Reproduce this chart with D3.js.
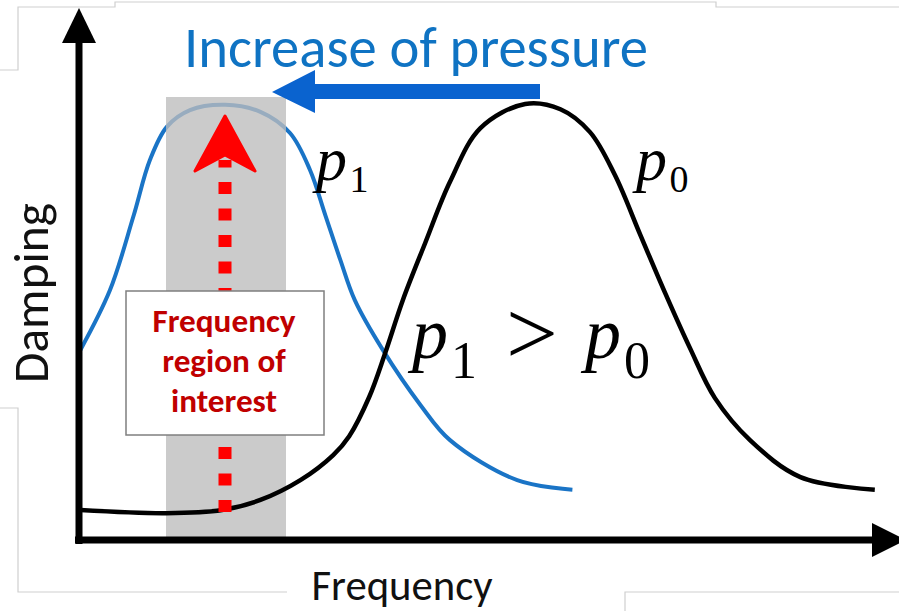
<!DOCTYPE html>
<html lang="en">
<head>
    <meta charset="utf-8">
    <script type="text/javascript" src="https://d3js.org/d3.v7.min.js"></script>
    <style>
        body { margin: 0; background: #fff; }
    </style>
</head>

<body>
    <script type="text/javascript">
        // SVG width and height
        let w = 899;
        let h = 611;

        // Damping curve at p0 (black), frequency / damping in arbitrary units
        let freqP0 = [0.3, 11, 18, 22.8, 27.8, 31.9, 33.9, 36.4, 38.4, 40.6, 43.4, 46.5, 50.3, 55.9, 60.3, 64, 67.1, 70.3, 73.4, 76.5, 79.6, 84, 90.3, 99.6];
        let dampP0 = [6.8, 6.1, 6.8, 9.1, 13.6, 19.3, 23.6, 32.5, 42.5, 54.5, 67.5, 81.4, 93.6, 99.1, 97.9, 92.7, 83, 69.3, 56.1, 43.6, 32.3, 22.7, 14.3, 11.4];

        // Damping curve at p1 (blue)
        let freqP1 = [0.3, 4, 6.9, 9, 11.1, 14, 18.4, 22.8, 26.5, 29, 30.9, 32.8, 34.6, 38.1, 42.8, 46.5, 54.9, 61.8];
        let dampP1 = [43.2, 56.8, 73.4, 86.4, 93.9, 97.7, 98.9, 97.3, 92.5, 84.1, 73.9, 63.6, 54.5, 43.2, 30.7, 22.7, 13.6, 11.4];

        // Frequency region of interest
        let regionFreq = [11, 26];

        // Scales
        let x = d3.scaleLinear().domain([0, 100]).range([78, 878]);
        let y = d3.scaleLinear().domain([0, 100]).range([540, 100]);

        // Create SVG element
        let svg = d3.select("body").append("svg")
                    .attr("width", w)
                    .attr("height", h);

        let sans = "Carlito, Lato, 'Open Sans', sans-serif";
        let serif = "'Liberation Serif', 'DejaVu Serif', serif";

        // scale font-size so the text is as wide as in the picture
        let fit = function(sel, target) {
            let fs = parseFloat(sel.attr("font-size"));
            let len = sel.node().getComputedTextLength();
            sel.attr("font-size", (fs * target / len).toFixed(1) + "px");
            return sel;
        };

        // Faint edges of the pasted patches
        let edges = [
            [[0, 70], [18, 70], [18, 7], [115, 7], [115, 2], [716, 2], [716, 7], [899, 7]],
            [[0, 408], [18, 408], [18, 592], [287, 592]],
            [[899, 592], [625, 592], [625, 611]]
        ];
        svg.selectAll("path.edge")
            .data(edges)
            .join("path")
                .attr("class", "edge")
                .attr("d", d3.line())
                .attr("fill", "none")
                .attr("stroke", "#cfcfcf")
                .attr("stroke-width", 1.2);

        let line = d3.line()
            .x(d => x(d[0]))
            .y(d => y(d[1]))
            .curve(d3.curveCatmullRom.alpha(0.5));

        // Blue curve (p1)
        svg.append("path")
            .datum(d3.zip(freqP1, dampP1))
            .attr("d", line)
            .attr("fill", "none")
            .attr("stroke", "#1a74c6")
            .attr("stroke-width", 4);

        // Grey band
        svg.append("rect")
            .attr("x", x(regionFreq[0]))
            .attr("width", x(regionFreq[1]) - x(regionFreq[0]))
            .attr("y", 97)
            .attr("height", 537 - 97)
            .attr("fill", "#bdbdbd")
            .attr("opacity", 0.78);

        // Black curve (p0)
        svg.append("path")
            .datum(d3.zip(freqP0, dampP0))
            .attr("d", line)
            .attr("fill", "none")
            .attr("stroke", "#000")
            .attr("stroke-width", 4.5);

        // Red dotted arrow
        let xr = x((regionFreq[0] + regionFreq[1]) / 2) - 1;
        svg.append("line")
            .attr("x1", xr).attr("x2", xr)
            .attr("y1", 512).attr("y2", 160)
            .attr("stroke", "#ff0000")
            .attr("stroke-width", 13)
            .attr("stroke-dasharray", "12 14.5");
        svg.append("path")
            .attr("d", `M${xr},116 L${xr + 30},171 L${xr},155 L${xr - 30},171 Z`)
            .attr("fill", "#ff0000")
            .attr("stroke", "#ff0000")
            .attr("stroke-width", 3)
            .attr("stroke-linejoin", "round");

        // Axes with arrow heads
        svg.append("line")
            .attr("x1", 79).attr("x2", 79)
            .attr("y1", 544).attr("y2", 40)
            .attr("stroke", "#000").attr("stroke-width", 7);
        svg.append("path")
            .attr("d", "M79,8 L96,43 L62,43 Z")
            .attr("fill", "#000");
        svg.append("line")
            .attr("x1", 75).attr("x2", 875)
            .attr("y1", 540).attr("y2", 540)
            .attr("stroke", "#000").attr("stroke-width", 7);
        svg.append("path")
            .attr("d", "M906,540 L872,523 L872,557 Z")
            .attr("fill", "#000");

        // Box with label
        svg.append("rect")
            .attr("x", 126).attr("y", 291)
            .attr("width", 198).attr("height", 144)
            .attr("fill", "#fff")
            .attr("stroke", "#7f7f7f")
            .attr("stroke-width", 1.5);
        let boxText = svg.selectAll("text.box")
            .data(["Frequency", "region of", "interest"])
            .join("text")
                .attr("class", "box")
                .text(d => d)
                .attr("x", 224)
                .attr("y", (d, i) => 332 + i * 40)
                .attr("text-anchor", "middle")
                .attr("font-family", sans)
                .attr("font-weight", "bold")
                .attr("font-size", "27px")
                .attr("fill", "#c00000");
        let first = boxText.filter((d, i) => i === 0);
        fit(first, 143);
        boxText.attr("font-size", first.attr("font-size"));

        // Blue pressure arrow and title
        svg.append("path")
            .attr("d", "M272,92 L315,70 L315,84 L540,84 L540,99 L315,99 L315,113 Z")
            .attr("fill", "#0a63cf");
        fit(svg.append("text")
            .text("Increase of pressure")
            .attr("x", 184).attr("y", 67)
            .attr("font-family", sans)
            .attr("font-size", "50px")
            .attr("fill", "#0f73c3"), 464);

        // Axis titles
        fit(svg.append("text")
            .text("Frequency")
            .attr("x", 402).attr("y", 600)
            .attr("text-anchor", "middle")
            .attr("font-family", sans)
            .attr("font-size", "41px")
            .attr("fill", "#111"), 181);
        fit(svg.append("text")
            .text("Damping")
            .attr("transform", "translate(48,293) rotate(-90)")
            .attr("text-anchor", "middle")
            .attr("font-family", sans)
            .attr("font-size", "44px")
            .attr("fill", "#111"), 180);

        // Math labels: p with subscript
        let mathLabel = function(px, py, sub, size, subSize, shift) {
            let t = svg.append("text")
                .attr("x", px).attr("y", py)
                .attr("font-family", serif)
                .attr("font-size", size + "px")
                .attr("fill", "#000");
            t.append("tspan").text("p").attr("font-style", "italic");
            t.append("tspan").text(sub)
                .attr("font-size", subSize + "px")
                .attr("dx", size * 0.04)
                .attr("dy", shift);
            return t;
        };
        mathLabel(316, 180, "1", 62, 38, 12);
        mathLabel(636, 180, "0", 62, 38, 12);

        // p1 > p0
        mathLabel(412, 358, "1", 72, 52, 20);
        svg.append("text")
            .text(">")
            .attr("x", 506).attr("y", 364)
            .attr("font-family", serif)
            .attr("font-size", "92px")
            .attr("fill", "#000");
        mathLabel(585, 358, "0", 72, 52, 20);
    </script>
</body>
</html>
